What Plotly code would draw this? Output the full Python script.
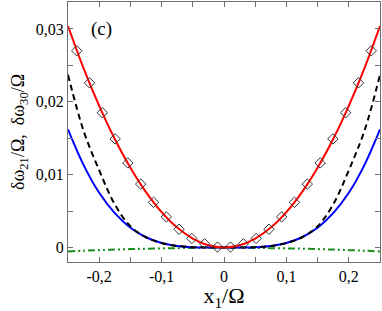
import plotly.graph_objects as go

# x grid for the continuous curves (symmetric)
x_line = [-0.25, -0.225, -0.2, -0.175, -0.15, -0.125, -0.1, -0.075, -0.05, -0.025, 0.0,
          0.025, 0.05, 0.075, 0.1, 0.125, 0.15, 0.175, 0.2, 0.225, 0.25]

red_half = [0.0, 0.0003, 0.00122, 0.00273, 0.00486, 0.0076, 0.01094, 0.01488, 0.01944, 0.0246, 0.0304]
blue_half = [0.0, 0.0, 0.00004, 0.0002, 0.0006, 0.0014, 0.0027, 0.0047, 0.0075, 0.0113, 0.0162]
black_half = [0.0, 0.0, 0.00004, 0.0002, 0.0006, 0.0014, 0.0029, 0.0059, 0.0106, 0.0160, 0.0237]
green_half = [-0.00005, -0.00005, -0.00007, -0.0001, -0.00013, -0.00017, -0.00023, -0.0003, -0.00037, -0.00045, -0.00055]

def mirror(half):
    return half[:0:-1] + half

red_y = mirror(red_half)
blue_y = mirror(blue_half)
black_y = mirror(black_half)
green_y = mirror(green_half)

# diamond markers on the red curve
mk_x_half = [0.0105, 0.031, 0.0515, 0.072, 0.0925, 0.113, 0.1335, 0.154, 0.1745, 0.195, 0.2155, 0.236]
mk_y_half = [0.00005, 0.0005, 0.00123, 0.0025, 0.0042, 0.0062, 0.0087, 0.0116, 0.0149, 0.0185, 0.0226, 0.0270]
mk_x = [-v for v in mk_x_half[::-1]] + mk_x_half
mk_y = mk_y_half[::-1] + mk_y_half

x_tickvals = [-0.25, -0.2, -0.15, -0.1, -0.05, 0.0, 0.05, 0.1, 0.15, 0.2, 0.25]
x_ticktext = ["", "-0,2", "", "-0,1", "", "0", "", "0,1", "", "0,2", ""]
y_tickvals = [0.0, 0.005, 0.01, 0.015, 0.02, 0.025, 0.03]
y_ticktext = ["0", "", "0,01", "", "0,02", "", "0,03"]

FONT = "Liberation Serif, Times New Roman, Times, serif"

fig = go.Figure()
fig.add_trace(go.Scatter(x=x_line, y=green_y, mode="lines", line_shape="spline",
                         line=dict(color="#178f17", width=2, dash="7px,3px,2px,3px,2px,3px"),
                         showlegend=False))
fig.add_trace(go.Scatter(x=x_line, y=blue_y, mode="lines", line_shape="spline",
                         line=dict(color="#0000ff", width=2), showlegend=False))
fig.add_trace(go.Scatter(x=x_line, y=black_y, mode="lines", line_shape="spline",
                         line=dict(color="#000000", width=2, dash="6px,4px"), showlegend=False))
fig.add_trace(go.Scatter(x=x_line, y=red_y, mode="lines", line_shape="spline",
                         line=dict(color="#ff0000", width=2), showlegend=False))
fig.add_trace(go.Scatter(x=mk_x, y=mk_y, mode="markers",
                         marker=dict(symbol="diamond-open", size=8, color="#333333",
                                     line=dict(width=1, color="#333333")),
                         showlegend=False))

fig.add_annotation(x=-0.197, y=0.030, xref="x", yref="y", text="(c)", showarrow=False,
                   font=dict(family=FONT, size=19, color="#000000"))

axis_common = dict(showgrid=False, zeroline=False, showline=True, linecolor="#707070",
                   linewidth=1, mirror="ticks", ticks="inside", ticklen=5, tickwidth=1,
                   tickcolor="#707070", tickfont=dict(family=FONT, size=16, color="#000000"))

fig.update_layout(
    width=382, height=311,
    margin=dict(l=68, r=2, t=2, b=49),
    paper_bgcolor="white", plot_bgcolor="white",
    font=dict(family=FONT),
    xaxis=dict(range=[-0.25, 0.25], tickmode="array", tickvals=x_tickvals, ticktext=x_ticktext,
               title=dict(text="x<sub>1</sub>/Ω", font=dict(family=FONT, size=22, color="#000000"),
                          standoff=0),
               **axis_common),
    yaxis=dict(range=[-0.002, 0.0337], tickmode="array", tickvals=y_tickvals, ticktext=y_ticktext,
               title=dict(text="δω<sub>21</sub>/Ω,  δω<sub>30</sub>/Ω",
                          font=dict(family=FONT, size=18, color="#000000"), standoff=6),
               **axis_common),
)

fig.write_html("out.html", config={"displayModeBar": False},
               post_script="document.body.style.margin='0';document.body.style.overflow='hidden';")
